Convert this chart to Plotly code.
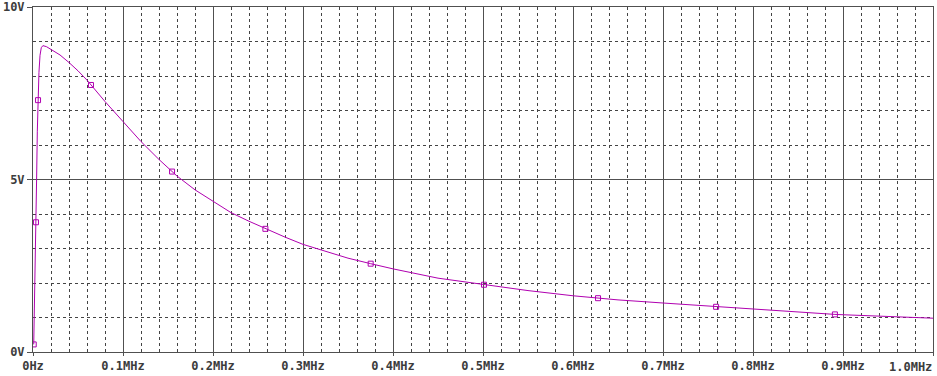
import plotly.graph_objects as go

# ---- data (frequency in MHz, voltage in V) ----
freq_mhz = [0.0008, 0.0016, 0.0024, 0.0033, 0.0040, 0.0048, 0.0056, 0.0066, 0.0078,
            0.0092, 0.0110, 0.0150, 0.0200, 0.0300, 0.0400, 0.0500, 0.0600, 0.0644,
            0.0800, 0.1000, 0.1200, 0.1400, 0.1545, 0.1600, 0.1800, 0.2000, 0.2200,
            0.2400, 0.2582, 0.2800, 0.3000, 0.3500, 0.3752, 0.4000, 0.4500, 0.5011,
            0.5500, 0.6000, 0.6278, 0.6500, 0.7000, 0.7500, 0.7590, 0.8000, 0.8500,
            0.8910, 0.9000, 0.9500, 1.0000]
volts = [0.22, 1.20, 2.50, 3.76, 5.00, 6.40, 7.30, 8.10, 8.60,
         8.82, 8.88, 8.85, 8.77, 8.61, 8.39, 8.15, 7.88, 7.74,
         7.26, 6.68, 6.10, 5.58, 5.23, 5.10, 4.70, 4.36, 4.04,
         3.79, 3.57, 3.33, 3.12, 2.72, 2.56, 2.41, 2.14, 1.95,
         1.78, 1.63, 1.56, 1.51, 1.42, 1.33, 1.31, 1.24, 1.16,
         1.09, 1.08, 1.03, 0.98]

marker_freq = [0.0008, 0.0033, 0.0056, 0.0644, 0.1545, 0.2582, 0.3752, 0.5011, 0.6278, 0.7590, 0.8910]
marker_volts = [0.22, 3.76, 7.30, 7.74, 5.23, 3.57, 2.56, 1.95, 1.56, 1.31, 1.09]

x_tickvals = [0.0, 0.1, 0.2, 0.3, 0.4, 0.5, 0.6, 0.7, 0.8, 0.9, 1.0]
x_ticktext = ["0Hz", "0.1MHz", "0.2MHz", "0.3MHz", "0.4MHz", "0.5MHz", "0.6MHz",
              "0.7MHz", "0.8MHz", "0.9MHz", "1.0MHz"]
y_tickvals = [0, 5, 10]
y_ticktext = ["0V", "5V", "10V"]

TRACE = "#b000b0"
GRID = "#505050"
MINOR = "#444444"
TEXT = "#3c3c3c"
FONT = dict(family="DejaVu Sans Mono", size=12, color=TEXT, weight="bold")

fig = go.Figure()
fig.add_trace(go.Scatter(x=freq_mhz, y=volts, mode="lines",
                         line=dict(color=TRACE, width=1), hoverinfo="skip"))
fig.add_trace(go.Scatter(x=marker_freq, y=marker_volts, mode="markers",
                         marker=dict(symbol="square-open", size=5, color=TRACE,
                                     line=dict(color=TRACE, width=1)),
                         hoverinfo="skip"))

# last x label is right-aligned to the plot edge (as in the original), so it is
# drawn as an annotation; the others are regular tick labels
tick_text_drawn = x_ticktext[:-1] + [""]
fig.add_annotation(x=x_tickvals[-1], y=0, xref="x", yref="paper",
                   text=x_ticktext[-1], showarrow=False,
                   xanchor="right", yanchor="middle", yshift=-15, xshift=1,
                   font=FONT)

fig.update_layout(
    width=937, height=376,
    margin=dict(l=33, r=4, t=7, b=24),
    paper_bgcolor="white", plot_bgcolor="white",
    showlegend=False,
    font=FONT,
)
fig.update_xaxes(
    range=[0, 1.0], tickvals=x_tickvals, ticktext=tick_text_drawn,
    showgrid=True, gridcolor=GRID, gridwidth=1,
    minor=dict(dtick=0.02, tick0=0, showgrid=True, gridcolor=MINOR, gridwidth=1,
               griddash="3px,3px"),
    showline=True, mirror=True, linecolor=GRID, linewidth=1, zeroline=False,
    ticks="outside", ticklen=3, tickcolor=GRID, tickfont=FONT,
    ticklabeloverflow="allow", automargin=False,
)
fig.update_yaxes(
    range=[0, 10], tickvals=y_tickvals, ticktext=y_ticktext,
    showgrid=True, gridcolor=GRID, gridwidth=1,
    minor=dict(dtick=1, tick0=0, showgrid=True, gridcolor=MINOR, gridwidth=1,
               griddash="3px,3px"),
    showline=True, mirror=True, linecolor=GRID, linewidth=1, zeroline=False,
    ticks="outside", ticklen=5, tickcolor=GRID, tickfont=FONT,
    ticklabeloverflow="allow", automargin=False,
)

fig.write_html("out.html")
